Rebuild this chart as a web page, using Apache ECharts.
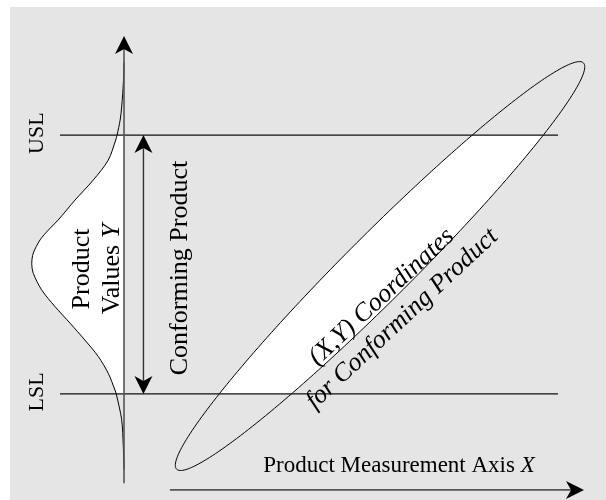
<!DOCTYPE html>
<html>
<head>
<meta charset="utf-8">
<script src="https://cdn.jsdelivr.net/npm/echarts@6/dist/echarts.min.js"></script>
<style>
  html, body { margin: 0; padding: 0; background: #ffffff; }
  #chart { width: 606px; height: 500px; }
</style>
</head>
<body>
<div id="chart"></div>
<script>
// ---- Data -------------------------------------------------------------
// Specification limits on the product value axis Y
const limitNames = ['USL', 'LSL'];
const limitValues = [10, 0];

// Distribution of product values Y, drawn sideways off the Y axis:
// value on Y and the matching density (extent to the left of the axis)
const curveValues  = [12.83, 12.12, 11.09, 10.58, 10.00, 9.81, 9.03, 8.26, 7.49, 6.72, 6.33, 5.95, 5.44, 5.05,
                      4.66, 4.02, 3.37, 2.73, 2.08, 1.44, 0.80, 0.15, 0.00, -1.00, -1.97, -2.93];
const curveDensity = [0.00, 0.02, 0.09, 0.15, 0.27, 0.32, 0.61, 1.19, 1.89, 2.54, 2.92, 3.24, 3.50, 3.56,
                      3.50, 3.18, 2.66, 2.08, 1.51, 0.99, 0.61, 0.35, 0.30, 0.09, 0.03, 0.00];

// Joint (X,Y) contour: centre, semi-axes (major, minor) and tilt in degrees
const contourCenter = [9.88, 4.94];
const contourSemiAxes = [11.10, 1.27];
const contourTiltDeg = 45;

// ---- Layout -----------------------------------------------------------
const BG = '#e5e5e5';
const FONT = "'Liberation Serif', 'Times New Roman', serif";
const AXIS_X = 0;                       // the Y axis sits at X = 0
const Y_ARROW = [-3.45, 13.83];         // extent of the Y axis arrow
const X_ARROW = [1.77, 17.75];          // extent of the X axis arrow
const X_ARROW_LEVEL = -3.71;            // Y level of the X axis arrow
const LIMIT_SPAN = [-2.47, 16.75];      // horizontal extent of USL / LSL lines
const CONFORM_X = 0.75;                 // double arrow spanning LSL..USL
const LIMIT_LABEL_X = -3.36;

function bellPoints(api) {
  return curveValues.map((v, i) => api.coord([AXIS_X - curveDensity[i], v]));
}

function contourPoints(api) {
  const pts = [];
  const t = contourTiltDeg * Math.PI / 180;
  const n = 240;
  for (let k = 0; k < n; k++) {
    const s = 2 * Math.PI * k / n;
    const a = contourSemiAxes[0] * Math.cos(s);
    const b = contourSemiAxes[1] * Math.sin(s);
    pts.push(api.coord([
      contourCenter[0] + a * Math.cos(t) - b * Math.sin(t),
      contourCenter[1] + a * Math.sin(t) + b * Math.cos(t)
    ]));
  }
  return pts;
}

// stealth-style arrow head: returns polygon points and the neck point
function arrowHead(tip, from, len, half) {
  const dx = tip[0] - from[0], dy = tip[1] - from[1];
  const L = Math.hypot(dx, dy);
  const ux = dx / L, uy = dy / L, nx = -uy, ny = ux;
  const bx = tip[0] - ux * len, by = tip[1] - uy * len;
  const neck = [tip[0] - ux * len * 0.72, tip[1] - uy * len * 0.72];
  return {
    pts: [tip, [bx + nx * half, by + ny * half], neck, [bx - nx * half, by - ny * half]],
    neck: neck
  };
}

function arrowElements(start, end, both, color, width) {
  const head = arrowHead(end, start, 18, 9);
  let s = start;
  const els = [];
  if (both) {
    const tail = arrowHead(start, end, 18, 9);
    s = tail.neck;
    els.push({ type: 'polygon', shape: { points: tail.pts }, style: { fill: '#000' } });
  }
  els.push({ type: 'line', shape: { x1: s[0], y1: s[1], x2: head.neck[0], y2: head.neck[1] },
             style: { stroke: color, lineWidth: width } });
  els.push({ type: 'polygon', shape: { points: head.pts }, style: { fill: '#000' } });
  return els;
}

const chart = echarts.init(document.getElementById('chart'), null, { renderer: 'canvas' });

const option = {
  animation: false,
  grid: { left: 10, top: 7, right: 0, bottom: 0, show: true, backgroundColor: BG, borderWidth: 0 },
  xAxis: { type: 'value', min: -4.4, max: 18.6, show: false },
  yAxis: { type: 'value', min: -4.1, max: 14.95, show: false },
  series: [
    // white fills of the distribution and the contour
    {
      type: 'custom', silent: true, z: 1, data: [0],
      renderItem: function (params, api) {
        return { type: 'group', children: [
          { type: 'polygon', shape: { points: bellPoints(api), smooth: 0.3 }, style: { fill: '#ffffff' } },
          { type: 'polygon', shape: { points: contourPoints(api) }, style: { fill: '#ffffff' } }
        ] };
      }
    },
    // keep the white only between the specification limits
    {
      type: 'custom', silent: true, z: 2, data: [0],
      renderItem: function (params, api) {
        const cs = params.coordSys;
        const yU = api.coord([0, Math.max.apply(null, limitValues)])[1];
        const yL = api.coord([0, Math.min.apply(null, limitValues)])[1];
        return { type: 'group', children: [
          { type: 'rect', shape: { x: cs.x, y: cs.y, width: cs.width, height: yU - cs.y }, style: { fill: BG } },
          { type: 'rect', shape: { x: cs.x, y: yL, width: cs.width, height: cs.y + cs.height - yL }, style: { fill: BG } }
        ] };
      }
    },
    // outlines
    {
      type: 'custom', silent: true, z: 3, data: [0],
      renderItem: function (params, api) {
        return { type: 'group', children: [
          { type: 'polyline', shape: { points: bellPoints(api), smooth: 0.3 },
            style: { stroke: '#000', lineWidth: 1, fill: null } },
          { type: 'polygon', shape: { points: contourPoints(api) },
            style: { stroke: '#000', lineWidth: 1, fill: null } }
        ] };
      }
    },
    // specification limit lines with their labels
    {
      type: 'custom', silent: true, z: 4,
      data: limitValues.map((v, i) => [i, v]),
      renderItem: function (params, api) {
        const v = api.value(1);
        const p1 = api.coord([LIMIT_SPAN[0], v]);
        const p2 = api.coord([LIMIT_SPAN[1], v]);
        const lp = api.coord([LIMIT_LABEL_X, v]);
        return { type: 'group', children: [
          { type: 'line', shape: { x1: p1[0], y1: p1[1], x2: p2[0], y2: p2[1] },
            style: { stroke: '#111', lineWidth: 1.2 } },
          { type: 'text', x: lp[0], y: lp[1] - 2, rotation: Math.PI / 2,
            style: { text: limitNames[params.dataIndex], fontFamily: FONT, fontSize: 22,
                     fill: '#000', align: 'center', verticalAlign: 'middle' } }
        ] };
      }
    },
    // axis arrows and the conforming range arrow
    {
      type: 'custom', silent: true, z: 5, data: [0],
      renderItem: function (params, api) {
        const hi = Math.max.apply(null, limitValues), lo = Math.min.apply(null, limitValues);
        const els = []
          .concat(arrowElements(api.coord([AXIS_X, Y_ARROW[0]]), api.coord([AXIS_X, Y_ARROW[1]]), false, '#555', 1.6))
          .concat(arrowElements(api.coord([X_ARROW[0], X_ARROW_LEVEL]), api.coord([X_ARROW[1], X_ARROW_LEVEL]), false, '#555', 1.6))
          .concat(arrowElements(api.coord([CONFORM_X, lo]), api.coord([CONFORM_X, hi]), true, '#333', 1.4));
        return { type: 'group', children: els };
      }
    }
  ],
  graphic: [
    {
      type: 'text', x: 97, y: 269, rotation: Math.PI / 2, z: 10, silent: true,
      style: { text: 'Product\nValues {i|Y}', fontFamily: FONT, fontSize: 26, lineHeight: 30,
               fill: '#000', align: 'center', verticalAlign: 'middle', textAlign: 'center', textVerticalAlign: 'middle',
               rich: { i: { fontStyle: 'italic', fontFamily: FONT, fontSize: 26, lineHeight: 30 } } }
    },
    {
      type: 'text', x: 180, y: 268, rotation: Math.PI / 2, z: 10, silent: true,
      style: { text: 'Conforming Product', fontFamily: FONT, fontSize: 26,
               fill: '#000', align: 'center', verticalAlign: 'middle', textAlign: 'center', textVerticalAlign: 'middle' }
    },
    {
      type: 'text', x: 399, y: 466, z: 10, silent: true,
      style: { text: 'Product Measurement Axis {i|X}', fontFamily: FONT, fontSize: 23,
               fill: '#000', align: 'center', verticalAlign: 'middle', textAlign: 'center', textVerticalAlign: 'middle',
               rich: { i: { fontStyle: 'italic', fontFamily: FONT, fontSize: 23 } } }
    },
    {
      type: 'text', x: 392, y: 308, rotation: 43 * Math.PI / 180, z: 10, silent: true,
      style: { text: '(X,Y) Coordinates\nfor Conforming Product', fontFamily: FONT, fontSize: 26,
               fontStyle: 'italic', lineHeight: 30,
               fill: '#000', align: 'center', verticalAlign: 'middle', textAlign: 'center', textVerticalAlign: 'middle' }
    }
  ]
};

chart.setOption(option);
</script>
</body>
</html>
